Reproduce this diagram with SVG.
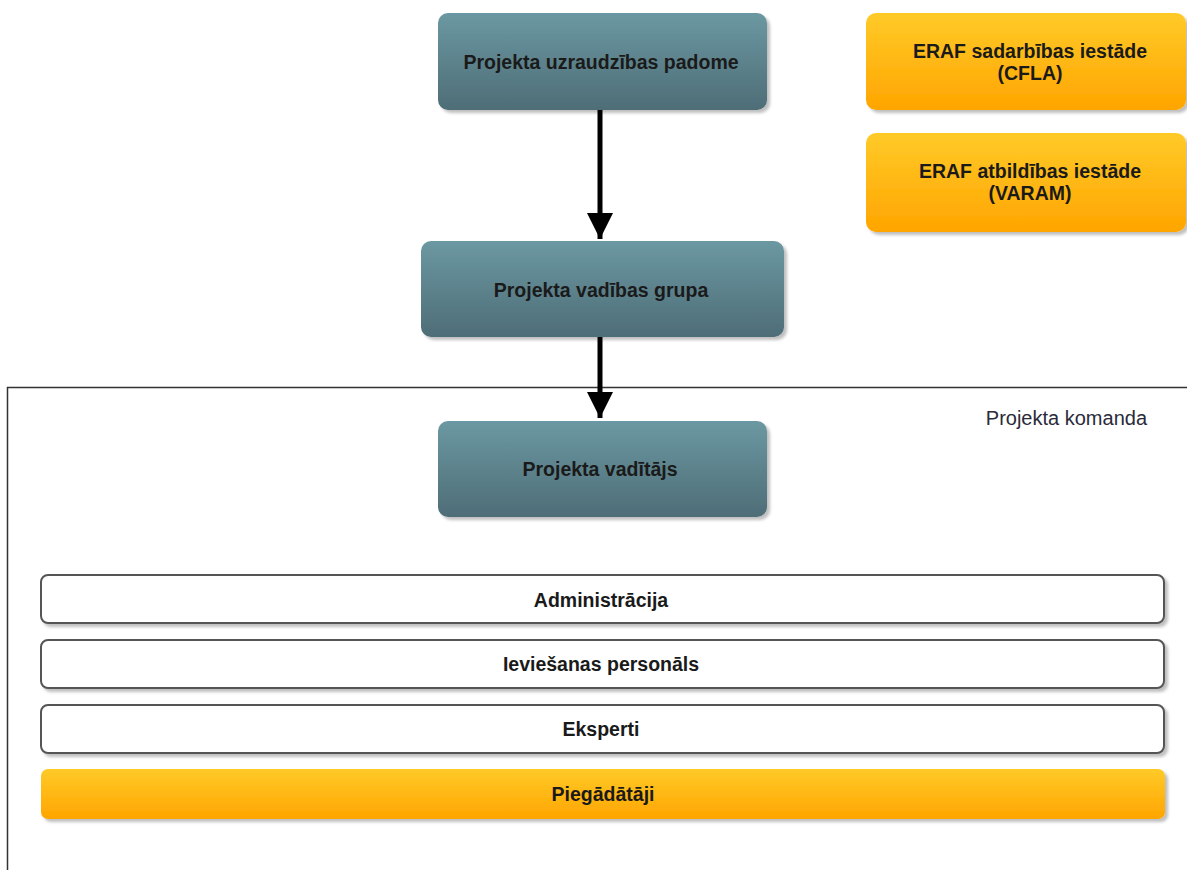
<svg xmlns="http://www.w3.org/2000/svg" width="1187" height="870" viewBox="0 0 1187 870">
<defs>
<linearGradient id="teal" x1="0" y1="0" x2="0" y2="1">
<stop offset="0" stop-color="#6b98a2"/>
<stop offset="1" stop-color="#4e6d77"/>
</linearGradient>
<linearGradient id="orange" x1="0" y1="0" x2="0" y2="1">
<stop offset="0" stop-color="#ffca28"/>
<stop offset="1" stop-color="#ffa500"/>
</linearGradient>
<filter id="sh" x="-10%" y="-20%" width="120%" height="150%">
<feDropShadow dx="3" dy="3" stdDeviation="1.5" flood-color="#000" flood-opacity="0.25"/>
</filter>
<marker id="arr" viewBox="0 0 10 10" refX="10" refY="5" markerWidth="5.2" markerHeight="5.2" markerUnits="strokeWidth" orient="auto">
<path d="M0,0 L10,5 L0,10 Z" fill="#000"/>
</marker>
</defs>
<style>
.teal{fill:url(#teal);filter:url(#sh)}
.org{fill:url(#orange);filter:url(#sh)}
.bar{fill:#fff;stroke:#555;stroke-width:2;filter:url(#sh)}
.lbl{font-family:"Liberation Sans",Arial,sans-serif;font-size:19.5px;font-weight:bold;fill:#1a1a1a;text-anchor:middle}
.edge{stroke:#000;stroke-width:5;fill:none}
</style>
<rect width="1187" height="870" fill="#fff"/>
<g id="container">
<path d="M7.5,870 L7.5,387.5 L1187,387.5" fill="none" stroke="#333" stroke-width="1.5"/>
<text x="1147" y="425" font-family="Liberation Sans,Arial,sans-serif" font-size="20" fill="#2a2a3a" text-anchor="end">Projekta komanda</text>
</g>
<g id="connectors">
<line class="edge" x1="600" y1="110" x2="600" y2="239" marker-end="url(#arr)"/>
<line class="edge" x1="600" y1="337" x2="600" y2="418" marker-end="url(#arr)"/>
</g>
<g id="n-padome">
<rect class="teal" x="438" y="13" width="329" height="97" rx="10"/>
<text class="lbl" x="601" y="69">Projekta uzraudzības padome</text>
</g>
<g id="n-grupa">
<rect class="teal" x="421" y="241" width="363" height="96" rx="10"/>
<text class="lbl" x="601" y="297">Projekta vadības grupa</text>
</g>
<g id="n-vaditajs">
<rect class="teal" x="438" y="421" width="329" height="96" rx="10"/>
<text class="lbl" x="600" y="476">Projekta vadītājs</text>
</g>
<g id="n-cfla">
<rect class="org" x="866" y="13" width="320" height="97" rx="10"/>
<text class="lbl" x="1030" y="58">ERAF sadarbības iestāde</text>
<text class="lbl" x="1030" y="80">(CFLA)</text>
</g>
<g id="n-varam">
<rect class="org" x="866" y="133" width="320" height="99" rx="10"/>
<text class="lbl" x="1030" y="178">ERAF atbildības iestāde</text>
<text class="lbl" x="1030" y="200">(VARAM)</text>
</g>
<g id="n-admin">
<rect class="bar" x="41" y="575" width="1123" height="48" rx="7"/>
<text class="lbl" x="601" y="607">Administrācija</text>
</g>
<g id="n-ieviesanas">
<rect class="bar" x="41" y="640" width="1123" height="48" rx="7"/>
<text class="lbl" x="601" y="671">Ieviešanas personāls</text>
</g>
<g id="n-eksperti">
<rect class="bar" x="41" y="705" width="1123" height="48" rx="7"/>
<text class="lbl" x="601" y="736">Eksperti</text>
</g>
<g id="n-piegadataji">
<rect class="org" x="41" y="769" width="1124" height="50" rx="7"/>
<text class="lbl" x="603" y="801">Piegādātāji</text>
</g>
</svg>
